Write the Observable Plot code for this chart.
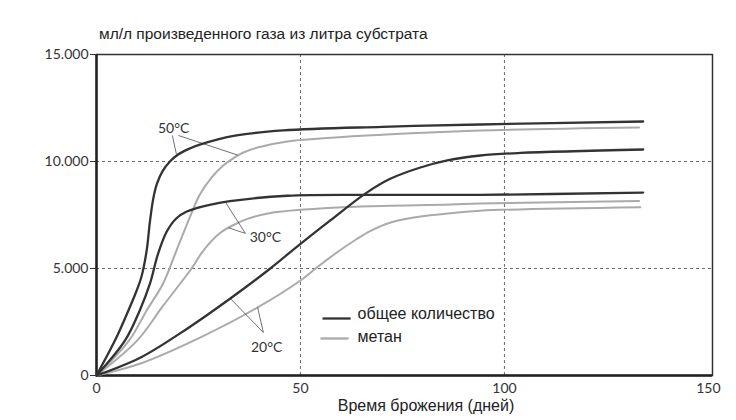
<!DOCTYPE html>
<html>
<head>
<meta charset="utf-8">
<script src="https://cdn.jsdelivr.net/npm/d3@7"></script>
<script src="https://cdn.jsdelivr.net/npm/@observablehq/plot@0.6"></script>
<style>
  html, body { margin: 0; padding: 0; background: #fff; }
  #wrap { position: relative; width: 736px; height: 420px; overflow: hidden; }
  #title { position: absolute; left: 99px; top: 25px; font: 15.5px "Liberation Sans", Arial, sans-serif; color: #222; white-space: nowrap; }
  #xlabel { position: absolute; left: 426px; top: 397px; transform: translateX(-50%); font: 16px "Liberation Sans", Arial, sans-serif; color: #222; white-space: nowrap; }
  #chart { position: absolute; left: 0; top: 0; }
</style>
</head>
<body>
<div id="wrap">
  <div id="chart"></div>
  <div id="title">мл/л произведенного газа из литра субстрата</div>
  <div id="xlabel">Время брожения (дней)</div>
</div>
<script>
// ---- data: [day, ml/l] ----
const total50 = [[0,0],[4.7,1700],[7.4,2850],[9.8,3950],[11,4600],[12.3,5840],[13.1,7200],[13.9,8250],[14.8,8950],[16.2,9550],[18,10000],[20,10330],[22.5,10580],[25.5,10800],[33.6,11200],[45.8,11450],[70,11620],[94,11730],[134,11870]];
const methane50 = [[0,0],[8,1640],[12.3,3040],[16.3,4290],[19.6,5840],[22.9,7400],[25.3,8450],[28.2,9250],[31,9800],[33.5,10150],[36,10420],[39.5,10650],[46.8,10930],[70,11250],[94,11450],[133,11590]];
const total30 = [[0,0],[7,1640],[10.6,3040],[13.1,4290],[15.1,5700],[17.2,6720],[19.6,7350],[22,7650],[24.5,7820],[28,7990],[32.7,8150],[46.8,8400],[70,8440],[94,8440],[134,8550]];
const methane30 = [[0,0],[10,1640],[16.3,3250],[23.3,5000],[26.2,5840],[30.2,6650],[34.3,7100],[37,7320],[42,7570],[50,7740],[64.7,7900],[86.8,7990],[94,8040],[133,8150]];
const total20 = [[0,0],[10.8,840],[22.3,2200],[32.8,3600],[42.6,5000],[50,6150],[57.4,7260],[65.9,8500],[72,9190],[79.4,9720],[86,10050],[94.1,10280],[103.9,10400],[134,10560]];
const methane20 = [[0,0],[10.8,560],[25.5,1780],[39.5,3180],[50,4440],[53.7,5000],[59,5760],[63.9,6390],[67.2,6760],[72.1,7150],[79.4,7430],[86.8,7580],[94.1,7700],[133.3,7865]];

const xTicks = [0, 50, 100, 150];
const yTicks = [0, 5000, 10000, 15000];
const gridX = [50, 100];
const gridY = [5000, 10000];

// temperature labels and their leader lines (data units)
const tempLabels = [
  {x: 18.9, y: 11540, text: "50°C"},
  {x: 41.4, y: 6450, text: "30°C"},
  {x: 41.7, y: 1310, text: "20°C"}
];
const leaders = [
  {x1: 18.6, y1: 11215, x2: 19.6, y2: 10330},
  {x1: 20.1, y1: 11215, x2: 34.6, y2: 10300},
  {x1: 36.5, y1: 6640, x2: 31.6, y2: 8100},
  {x1: 36.5, y1: 6640, x2: 32.4, y2: 6900},
  {x1: 40.9, y1: 2010, x2: 32.8, y2: 3600},
  {x1: 40.9, y1: 2010, x2: 39.5, y2: 3180}
];

// legend
const legendItems = [
  {x1: 55.4, x2: 62.3, y: 2664, ty: 2900, text: "общее количество", color: "#333"},
  {x1: 54.9, x2: 61.8, y: 1729, ty: 1822, text: "метан", color: "#aaa"}
];

const fmt = d => d === 0 ? "0" : d3.format(",")(d).replace(/,/g, ".");
const DARK = "#333", LIGHT = "#aaa";
const lineOpts = (color, w) => ({x: d => d[0], y: d => d[1], stroke: color, strokeWidth: w, curve: "catmull-rom"});

const chart = Plot.plot({
  width: 736,
  height: 420,
  marginLeft: 96,
  marginRight: 24,
  marginTop: 54,
  marginBottom: 45,
  style: {fontFamily: "Lato, sans-serif", fontSize: "14px", color: "#333", background: "#fff"},
  x: {domain: [0, 151]},
  y: {domain: [0, 15000]},
  marks: [
    Plot.ruleX(gridX, {stroke: "#444", strokeWidth: 0.8, strokeDasharray: "3,3"}),
    Plot.ruleY(gridY, {stroke: "#444", strokeWidth: 0.8, strokeDasharray: "3,3"}),
    Plot.frame({stroke: "#333", strokeWidth: 1.5}),
    Plot.ruleX([0], {stroke: "#222", strokeWidth: 2.5}),
    Plot.ruleY([0], {stroke: "#222", strokeWidth: 2.5}),
    Plot.axisX({ticks: xTicks, tickSize: 0, tickPadding: 8, fontSize: 14, label: null}),
    Plot.axisY({ticks: yTicks, tickFormat: fmt, tickSize: 6, tickPadding: 2, fontSize: 14, label: null}),
    Plot.line(methane20, lineOpts(LIGHT, 2)),
    Plot.line(methane30, lineOpts(LIGHT, 2)),
    Plot.line(methane50, lineOpts(LIGHT, 2)),
    Plot.line(total20, lineOpts(DARK, 2.3)),
    Plot.line(total30, lineOpts(DARK, 2.3)),
    Plot.line(total50, lineOpts(DARK, 2.3)),
    Plot.link(leaders, {x1: "x1", y1: "y1", x2: "x2", y2: "y2", stroke: "#333", strokeWidth: 0.7}),
    Plot.text(tempLabels, {x: "x", y: "y", text: "text", fontSize: 14, fill: "#333", stroke: "#fff", strokeWidth: 3, paintOrder: "stroke"}),
    Plot.link(legendItems, {x1: "x1", x2: "x2", y1: "y", y2: "y", stroke: d => d.color, strokeWidth: 2.3}),
    Plot.text(legendItems, {x: 64, y: "ty", text: "text", textAnchor: "start", fontSize: 16, fontFamily: "Liberation Sans, Arial, sans-serif", fill: "#222"})
  ]
});
document.getElementById("chart").appendChild(chart);
</script>
</body>
</html>
